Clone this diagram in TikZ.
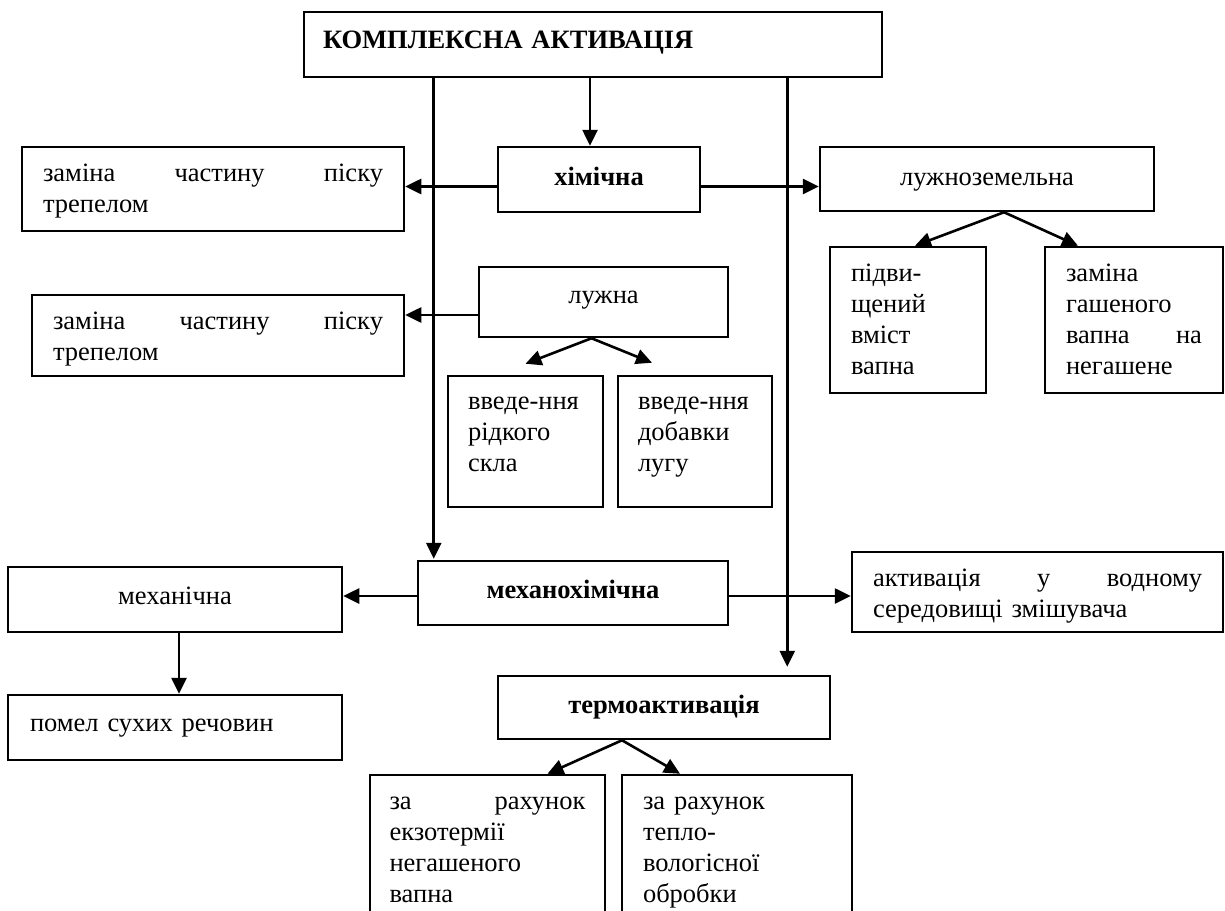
\documentclass[tikz,border=0pt]{standalone}
\usepackage{fontspec}
\setmainfont{Liberation Serif}
\usetikzlibrary{arrows.meta}
\newcommand\dfont{\fontsize{26.5pt}{31pt}\selectfont}
\hyphenpenalty=10000
\exhyphenpenalty=10000
\tikzset{
  bx/.style={draw, line width=2.5pt, rectangle, inner ysep=0pt, font=\dfont},
  bxb/.style={bx, font=\dfont\bfseries},
  tbx/.style={bx, align=left, text width=#1},
  arr/.style={line width=2.6pt, -{Triangle[length=16pt,width=15pt]}},
}
\begin{document}
\begin{tikzpicture}[x=1pt,y=-1pt]
\useasboundingbox (0,0) rectangle (1225,910);
\clip (0,0) rectangle (1225,910);

\node[tbx=540pt, inner xsep=19pt, minimum width=578pt, minimum height=65pt, font=\dfont\bfseries, text height=8pt, text depth=0pt] (top) at (593,44.5) {КОМПЛЕКСНА АКТИВАЦІЯ};

\node[bxb, minimum width=202pt, minimum height=65pt, text height=11pt, text depth=0pt] (chem) at (599,179.5) {хімічна};
\node[tbx=340pt, inner xsep=21pt, minimum width=382pt, minimum height=84pt, text height=0pt, text depth=16pt] (box1) at (213,189) {заміна\hfill частину\hfill піску\\трепелом};
\node[bx, minimum width=334pt, minimum height=64pt, text height=12pt, text depth=0pt] (lz) at (987,179) {лужноземельна};
\node[tbx=114pt, inner xsep=21pt, minimum width=156pt, minimum height=146pt, text height=0pt, text depth=78pt] (pidv) at (908,320) {підви-\\щений\\вміст\\вапна};
\node[tbx=136pt, inner xsep=21pt, minimum width=178pt, minimum height=146pt, text height=0pt, text depth=78pt] (zam) at (1134,320) {заміна\\гашеного\\вапна\hfill на\\негашене};

\node[bx, minimum width=249pt, minimum height=70pt, text height=2pt, text depth=0pt] (luzh) at (603.5,302) {лужна};
\node[tbx=330pt, inner xsep=21pt, minimum width=372pt, minimum height=81pt, text height=0pt, text depth=13pt] (box2) at (218,335.5) {заміна\hfill частину\hfill піску\\трепелом};
\node[tbx=115pt, inner xsep=20pt, minimum width=155pt, minimum height=131pt, text height=0pt, text depth=65pt] (v1) at (525.5,441.5) {введе-ння\\рідкого\\скла};
\node[tbx=114pt, inner xsep=20pt, minimum width=154pt, minimum height=131pt, text height=0pt, text depth=65pt] (v2) at (695,441.5) {введе-ння\\добавки\\лугу};

\node[bxb, minimum width=310pt, minimum height=64pt, text height=11pt, text depth=0pt] (mech) at (573,593) {механохімічна};
\node[bx, minimum width=334pt, minimum height=65pt, text height=9pt, text depth=0pt] (mechan) at (175,599.5) {механічна};
\node[tbx=290pt, inner xsep=22pt, minimum width=334pt, minimum height=65pt, text height=8pt, text depth=0pt] (pomel) at (175,727.5) {помел сухих речовин};
\node[tbx=329pt, inner xsep=21pt, minimum width=371pt, minimum height=80pt, text height=0pt, text depth=12pt] (akt) at (1037.5,592) {активація\hfill у\hfill водному\\середовищі змішувача};

\node[bxb, minimum width=332pt, minimum height=63pt, text height=12pt, text depth=0pt] (term) at (664,707.5) {термоактивація};
\node[tbx=196pt, inner xsep=19.5pt, minimum width=235pt, minimum height=150pt, text height=0pt, text depth=82pt] (ex) at (487.5,850) {за\hfill рахунок\\екзотермії\\негашеного\\вапна};
\node[tbx=188pt, inner xsep=21pt, minimum width=230pt, minimum height=150pt, text height=0pt, text depth=82pt] (tep) at (737,850) {за рахунок\\тепло-\\вологісної\\обробки};

% connectors from the top box
\draw[arr] ([xshift=-9pt]chem.north |- top.south) -- ([xshift=-9pt]chem.north);
\draw[arr] ([xshift=17pt]mech.north west |- top.south) -- ([xshift=17pt,yshift=1pt]mech.north west);
\draw[arr] ([xshift=-44pt]term.north east |- top.south) -- ([xshift=-44pt,yshift=8pt]term.north east);

% chemical
\draw[arr] ([yshift=-7pt]chem.west) -- ([yshift=-7pt]chem.west -| box1.east);
\draw[arr] ([yshift=-7pt]chem.east) -- ([yshift=-7pt]chem.east -| lz.west);
\draw[arr] ([xshift=17pt]lz.south) -- ([xshift=7pt]pidv.north);
\draw[arr] ([xshift=17pt]lz.south) -- ([xshift=-56pt]zam.north);

% alkaline
\draw[arr] ([yshift=-13pt]luzh.west) -- ([yshift=-13pt]luzh.west -| box2.east);
\draw[arr] ([xshift=-12pt]luzh.south) -- ([yshift=11pt]v1.north);
\draw[arr] ([xshift=-12pt]luzh.south) -- ([xshift=-43pt,yshift=12pt]v2.north);

% mechanochemical
\draw[arr] ([yshift=-3pt]mech.west) -- ([yshift=-3pt]mech.west -| mechan.east);
\draw[arr] ([yshift=-3pt]mech.east) -- ([yshift=-3pt]mech.east -| akt.west);
\draw[arr] ([xshift=4pt]mechan.south) -- ([xshift=4pt]mechan.south |- pomel.north);

% thermal
\draw[arr] ([xshift=-42pt]term.south) -- ([xshift=60pt]ex.north);
\draw[arr] ([xshift=-42pt]term.south) -- ([xshift=-57pt]tep.north);
\end{tikzpicture}
\end{document}
